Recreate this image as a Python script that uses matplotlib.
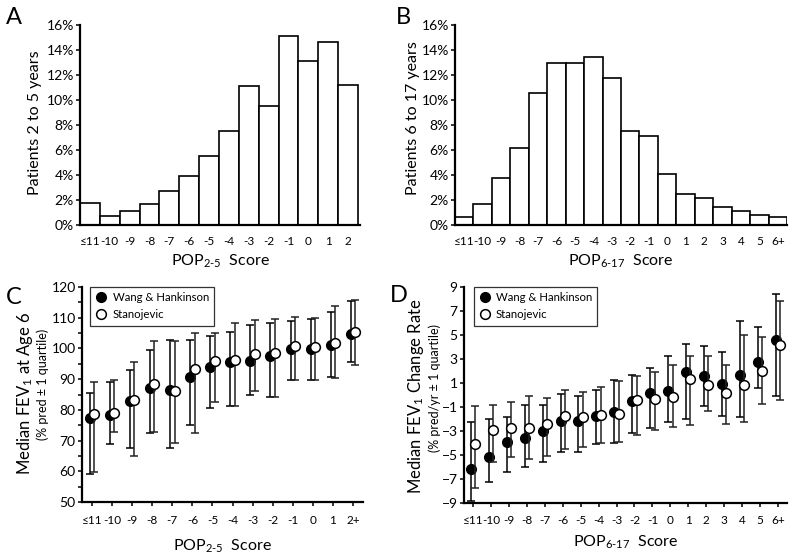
import matplotlib
matplotlib.use("Agg")
import matplotlib.pyplot as plt
import numpy as np
from matplotlib.ticker import FuncFormatter, MultipleLocator

FONT = 'Lato'
plt.rcParams['font.family'] = [FONT, 'DejaVu Sans']
plt.rcParams['mathtext.fontset'] = 'custom'
plt.rcParams['mathtext.rm'] = FONT
plt.rcParams['mathtext.it'] = FONT
plt.rcParams['mathtext.bf'] = FONT

# ---------------- data ----------------
cats_a = ['≤11', '-10', '-9', '-8', '-7', '-6', '-5', '-4', '-3', '-2', '-1', '0', '1', '2']
pct_a = [1.74, 0.72, 1.12, 1.71, 2.7, 3.9, 5.5, 7.5, 11.15, 9.55, 15.13, 13.16, 14.63, 11.23]

cats_b = ['≤11', '-10', '-9', '-8', '-7', '-6', '-5', '-4', '-3', '-2', '-1', '0',
          '1', '2', '3', '4', '5', '6+']
pct_b = [0.67, 1.68, 3.76, 6.13, 10.53, 12.93, 12.93, 13.44, 11.73, 7.55, 7.15, 4.05,
         2.48, 2.16, 1.47, 1.09, 0.77, 0.67]

cats_c = ['≤11', '-10', '-9', '-8', '-7', '-6', '-5', '-4', '-3', '-2', '-1', '0', '1', '2+']
c_wang = [77.5, 78.4, 82.9, 87.2, 86.4, 90.7, 94.0, 95.5, 95.9, 97.4, 99.8, 99.8, 101.0, 104.8]
c_wang_lo = [59.2, 69.0, 67.6, 72.4, 67.6, 75.0, 80.6, 81.1, 85.0, 84.3, 89.8, 89.6, 90.7, 95.7]
c_wang_hi = [85.5, 89.2, 93.1, 99.4, 102.9, 102.6, 104.0, 105.5, 107.7, 108.3, 109.0, 109.6, 111.8, 115.5]
c_stan = [78.5, 79.1, 83.1, 88.3, 86.0, 93.2, 95.9, 96.1, 98.1, 98.5, 100.9, 100.6, 101.8, 105.3]
c_stan_lo = [59.7, 72.8, 65.0, 72.8, 69.3, 72.6, 82.7, 81.4, 86.3, 84.3, 89.8, 89.6, 90.5, 94.7]
c_stan_hi = [89.1, 89.7, 95.6, 102.3, 102.3, 105.0, 105.0, 108.3, 109.4, 109.6, 110.3, 109.8, 113.7, 115.8]

cats_d = cats_b
d_wang = [-6.17, -5.14, -3.9, -3.56, -2.97, -2.19, -2.19, -1.78, -1.39, -0.47, 0.17, 0.36,
          1.89, 1.56, 0.94, 1.64, 2.75, 4.56]
d_wang_lo = [-8.8, -7.25, -6.44, -6.03, -5.56, -4.75, -4.75, -4.08, -4.03, -3.17, -2.78, -2.25,
             -2.0, -0.89, -1.78, -1.86, 0.58, -0.11]
d_wang_hi = [-2.28, -1.97, -1.8, -0.83, -0.83, 0.08, -0.08, 0.44, 1.22, 1.69, 2.22, 3.22,
             4.25, 4.06, 3.58, 6.14, 5.64, 8.39]
d_stan = [-4.06, -2.94, -2.72, -2.75, -2.39, -1.75, -1.86, -1.69, -1.56, -0.42, -0.31, -0.17,
          1.36, 0.81, 0.17, 0.83, 1.97, 4.14]
d_stan_lo = [-7.75, -5.6, -5.2, -5.33, -5.1, -4.47, -4.36, -4.03, -3.92, -3.36, -2.94, -2.64,
             -2.47, -1.36, -2.42, -2.25, -0.75, -0.39]
d_stan_hi = [-0.94, -0.86, -0.58, -0.11, -0.25, 0.44, 0.25, 0.64, 1.14, 1.56, 1.94, 2.47,
             3.22, 3.22, 2.53, 5.0, 4.81, 7.81]

# ---------------- figure ----------------
W, H = 793, 557
fig = plt.figure(figsize=(W / 100, H / 100), dpi=100)


def rect(l, t, r, b):
    return [l / W, 1 - b / H, (r - l) / W, (b - t) / H]


YTICK_FS = 10
XTICK_FS = 8.5
LABEL_FS = 11.5


def style_axes(ax):
    for s in ['top', 'right']:
        ax.spines[s].set_visible(False)
    for s in ['left', 'bottom']:
        ax.spines[s].set_linewidth(1.6)
        ax.spines[s].set_color('black')
    ax.tick_params(axis='both', width=1.1, length=3, color='black', direction='out', pad=1.5)
    ax.tick_params(axis='y', labelsize=YTICK_FS)
    ax.tick_params(axis='x', labelsize=XTICK_FS)


pct_fmt = FuncFormatter(lambda v, p: f"{v:.0f}%")

# Panel A
axA = fig.add_axes(rect(80, 25, 360, 225))
xa = np.arange(len(cats_a))
axA.bar(xa, pct_a, width=1.0, color='white', edgecolor='black', linewidth=1.2)
axA.set_xlim(-0.5, len(cats_a) - 0.4)
axA.set_ylim(0, 16)
axA.yaxis.set_major_locator(MultipleLocator(2))
axA.yaxis.set_major_formatter(pct_fmt)
axA.set_xticks(xa)
axA.set_xticklabels(cats_a)
style_axes(axA)
axA.tick_params(axis='x', length=0, pad=8)
axA.set_xlabel(r'POP$_{\text{2-5}}$  Score', fontsize=LABEL_FS, labelpad=4)

# Panel B
axB = fig.add_axes(rect(455, 25, 787, 225))
xb = np.arange(len(cats_b))
axB.bar(xb, pct_b, width=1.0, color='white', edgecolor='black', linewidth=1.2)
axB.set_xlim(-0.5, len(cats_b) - 0.5)
axB.set_ylim(0, 16)
axB.yaxis.set_major_locator(MultipleLocator(2))
axB.yaxis.set_major_formatter(pct_fmt)
axB.set_xticks(xb)
axB.set_xticklabels(cats_b)
style_axes(axB)
axB.tick_params(axis='x', length=0, pad=8)
axB.set_xlabel(r'POP$_{\text{6-17}}$  Score', fontsize=LABEL_FS, labelpad=4)

fig.text(35 / W, 1 - 123 / H, 'Patients 2 to 5 years', rotation=90, ha='center', va='center', fontsize=LABEL_FS)
fig.text(413 / W, 1 - 118 / H, 'Patients 6 to 17 years', rotation=90, ha='center', va='center', fontsize=LABEL_FS)


def err_panel(ax, cats, w, wlo, whi, s, slo, shi, off):
    x = np.arange(len(cats))
    w = np.array(w); s = np.array(s)
    ax.errorbar(x - off, w, yerr=[w - np.array(wlo), np.array(whi) - w], fmt='none',
                ecolor='black', elinewidth=1.1, capsize=3.0, capthick=1.1, zorder=2)
    ax.plot(x - off, w, 'o', ms=7, mfc='black', mec='black', mew=1.0, zorder=3,
            label='Wang & Hankinson')
    ax.errorbar(x + off, s, yerr=[s - np.array(slo), np.array(shi) - s], fmt='none',
                ecolor='#222222', elinewidth=1.1, capsize=3.0, capthick=1.1, zorder=4)
    ax.plot(x + off, s, 'o', ms=7, mfc='white', mec='black', mew=1.1, zorder=5,
            label='Stanojevic')
    ax.set_xticks(x)
    ax.set_xticklabels(cats)
    ax.set_xlim(-0.5, len(cats) - 0.5)
    style_axes(ax)
    ax.tick_params(axis='x', length=3, pad=6)
    leg = ax.legend(loc='upper left', bbox_to_anchor=(0.03, 1.0), fontsize=8.2, frameon=True,
                    fancybox=False, edgecolor='black', handletextpad=0.5, borderpad=0.45,
                    labelspacing=0.55, handlelength=1.0, borderaxespad=0.0)
    leg.get_frame().set_linewidth(0.9)


# Panel C
axC = fig.add_axes(rect(82, 287, 363, 502))
err_panel(axC, cats_c, c_wang, c_wang_lo, c_wang_hi, c_stan, c_stan_lo, c_stan_hi, 0.11)
axC.set_ylim(50, 120)
axC.yaxis.set_major_locator(MultipleLocator(10))
axC.yaxis.set_minor_locator(MultipleLocator(5))
axC.tick_params(axis='y', which='minor', length=3, width=1.1)
axC.set_xlabel(r'POP$_{\text{2-5}}$  Score', fontsize=LABEL_FS, labelpad=9)
fig.text(25 / W, 1 - 393 / H, r'Median FEV$_1$ at Age 6', rotation=90, ha='center', va='center', fontsize=12)
fig.text(43 / W, 1 - 384 / H, '(% pred ± 1 quartile)', rotation=90, ha='center', va='center', fontsize=9)

# Panel D
axD = fig.add_axes(rect(464, 287, 787, 503))
err_panel(axD, cats_d, d_wang, d_wang_lo, d_wang_hi, d_stan, d_stan_lo, d_stan_hi, 0.12)
axD.set_ylim(-9, 9)
axD.set_yticks(np.arange(-9, 10, 2))
axD.set_xlabel(r'POP$_{\text{6-17}}$  Score', fontsize=LABEL_FS, labelpad=5)
fig.text(416 / W, 1 - 396 / H, r'Median FEV$_1$ Change Rate', rotation=90, ha='center', va='center', fontsize=12)
fig.text(434.5 / W, 1 - 388 / H, '(% pred/yr ± 1 quartile)', rotation=90, ha='center', va='center', fontsize=9)

# panel letters
for lbl, (px, py) in {'A': (14, 17), 'B': (403, 17), 'C': (14, 298), 'D': (399, 296)}.items():
    fig.text(px / W, 1 - py / H, lbl, ha='center', va='center', fontsize=17)

fig.savefig('out.png', dpi=100)
